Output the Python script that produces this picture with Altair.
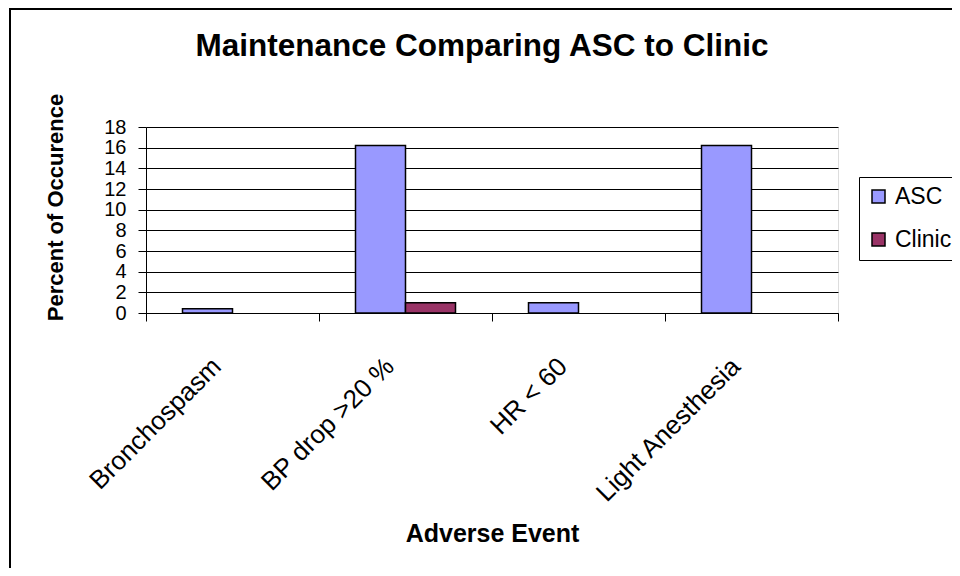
import altair as alt
import pandas as pd

events = ["Bronchospasm", "BP drop >20 %", "HR < 60", "Light Anesthesia"]
series = ["ASC", "Clinic"]
asc_values = [0.4, 16.2, 1.0, 16.2]
clinic_values = [0.0, 1.0, 0.0, 0.0]
y_ticks = [0, 2, 4, 6, 8, 10, 12, 14, 16, 18]
colors = ["#9999FF", "#993366"]

rows = []
for e, a, c in zip(events, asc_values, clinic_values):
    rows.append({"event": e, "series": "ASC", "value": a})
    rows.append({"event": e, "series": "Clinic", "value": c})
df = pd.DataFrame(rows)

FONT = "Liberation Sans"
W, H = 692, 186

bars = alt.Chart(df).transform_filter("datum.value > 0").mark_bar(
    stroke="black", strokeWidth=1.5
).encode(
    x=alt.X(
        "event:N",
        sort=events,
        scale=alt.Scale(domain=events, paddingInner=0, paddingOuter=0),
        axis=alt.Axis(
            title="Adverse Event",
            labelAngle=-45,
            labelAlign="right",
            labelBaseline="middle",
            labelFontSize=26,
            labelFont=FONT,
            labelColor="black",
            labelPadding=41,
            labelOffset=-16,
            labelOverlap=False,
            labelLimit=0,
            tickBand="extent",
            tickSize=8,
            tickColor="black",
            domainColor="black",
            grid=False,
            titleFont=FONT,
            titleFontSize=25,
            titleFontWeight="bold",
            titleColor="black",
            titleX=W / 2,
            titleY=220,
            titleBaseline="middle",
            titleAlign="center",
        ),
    ),
    xOffset=alt.XOffset(
        "series:N",
        sort=series,
        scale=alt.Scale(domain=series, paddingInner=0, paddingOuter=0.73),
    ),
    y=alt.Y(
        "value:Q",
        scale=alt.Scale(domain=[0, 18], nice=False),
        axis=alt.Axis(
            title="Percent of Occurence",
            values=y_ticks,
            labelFontSize=20,
            labelFont=FONT,
            labelColor="black",
            labelPadding=12,
            labelOverlap=False,
            tickSize=8,
            tickColor="black",
            domainColor="black",
            grid=True,
            gridColor="black",
            gridOpacity=1,
            gridWidth=1,
            titleFont=FONT,
            titleFontSize=22,
            titleFontWeight="bold",
            titleColor="black",
            titleX=-91,
            titleY=80,
            titleAngle=270,
            titleBaseline="middle",
            titleAlign="center",
        ),
    ),
    color=alt.Color(
        "series:N",
        sort=series,
        scale=alt.Scale(domain=series, range=colors),
        legend=alt.Legend(
            title=None,
            orient="none",
            legendX=713,
            legendY=50,
            symbolType="square",
            symbolSize=169,
            symbolStrokeColor="black",
            symbolStrokeWidth=1.5,
            symbolOpacity=1,
            labelFont=FONT,
            labelFontSize=23,
            labelColor="black",
            labelOffset=5,
            rowPadding=19,
            padding=8,
            strokeColor="black",
            fillColor="white",
        ),
    ),
)

one = alt.Data(values=[{}])
frame_left = alt.Chart(one).mark_rule(color="black", strokeWidth=2).encode(
    x=alt.value(-136), y=alt.value(-119), y2=alt.value(600)
)
frame_top = alt.Chart(one).mark_rule(color="black", strokeWidth=2).encode(
    x=alt.value(-136), x2=alt.value(900), y=alt.value(-118)
)

chart = alt.layer(bars, frame_left, frame_top).properties(
    width=W,
    height=H,
    autosize=alt.AutoSizeParams(type="none"),
    padding={"left": 138, "top": 119, "right": 114, "bottom": 255},
    title=alt.TitleParams(
        "Maintenance Comparing ASC to Clinic",
        font=FONT,
        fontSize=31.5,
        fontWeight="bold",
        color="black",
        anchor="middle",
        dx=-10,
        dy=55,
        offset=0,
    ),
).configure_view(
    fill="#C0C0C0", stroke="#808080", strokeWidth=1
).configure(background="white")

chart.save("out.html", embed_options={"renderer": "svg", "actions": False})
